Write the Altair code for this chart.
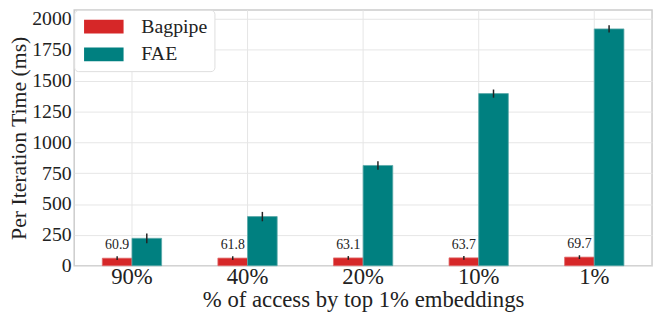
import altair as alt
import pandas as pd

categories = ["90%", "40%", "20%", "10%", "1%"]
series = ["Bagpipe", "FAE"]
bagpipe = [60.9, 61.8, 63.1, 63.7, 69.7]
bagpipe_err = [15, 15, 15, 15, 15]
fae = [222, 398, 812, 1394, 1918]
fae_err = [40, 38, 35, 33, 30]
y_ticks = [0, 250, 500, 750, 1000, 1250, 1500, 1750, 2000]
colors = ["#d62728", "#008080"]

rows = []
for i, c in enumerate(categories):
    rows.append({"cat": c, "series": "Bagpipe", "value": bagpipe[i],
                 "lo": bagpipe[i] - bagpipe_err[i], "hi": bagpipe[i] + bagpipe_err[i],
                 "label": f"{bagpipe[i]:.1f}"})
    rows.append({"cat": c, "series": "FAE", "value": fae[i],
                 "lo": fae[i] - fae_err[i], "hi": fae[i] + fae_err[i],
                 "label": ""})
df = pd.DataFrame(rows)

FONT = "Liberation Serif"

x = alt.X("cat:N", sort=categories,
          scale=alt.Scale(paddingInner=0.487, paddingOuter=0.2435),
          axis=alt.Axis(title="% of access by top 1% embeddings", labelAngle=0,
                        grid=True, bandPosition=0.5, ticks=False, domain=False,
                        labelFontSize=23, titleFontSize=23, labelPadding=0,
                        titlePadding=0))
xo = alt.XOffset("series:N", sort=series, scale=alt.Scale(paddingInner=0, paddingOuter=0))
yscale = alt.Scale(domain=[0, 2072], nice=False, zero=True)
yaxis = alt.Axis(title="Per Iteration Time (ms)", values=y_ticks, tickCount=9,
                 format="d", labelOverlap=False,
                 ticks=False, domain=False, labelFontSize=20, titleFontSize=22,
                 labelPadding=3, titlePadding=1)

base = alt.Chart(df)

bars = base.mark_bar(strokeWidth=0.8).encode(
    x=x, xOffset=xo,
    y=alt.Y("value:Q", scale=yscale, axis=yaxis),
    color=alt.Color("series:N", sort=series,
                    scale=alt.Scale(domain=series, range=colors),
                    legend=alt.Legend(title=None, orient="top-left", offset=0,
                                      symbolType="M-1,-1L4.714,-1L4.714,1L-1,1Z",
                                      symbolSize=196, symbolStrokeWidth=0,
                                      labelFontSize=20, labelOffset=41,
                                      rowPadding=8, padding=7,
                                      fillColor="white", strokeColor="#dddddd",
                                      cornerRadius=4)),
    stroke=alt.Stroke("series:N", scale=alt.Scale(domain=series, range=["#e06a6a", "#5aa9a9"]),
                      legend=None),
)

err = base.mark_rule(color="#222222", strokeWidth=1.5).encode(
    x=x, xOffset=xo,
    y=alt.Y("lo:Q", scale=yscale, axis=yaxis), y2="hi:Q")

labels = base.transform_filter(alt.datum.series == "Bagpipe").mark_text(
    baseline="bottom", dy=-4, fontSize=14, font=FONT, color="#222222").encode(
    x=x, xOffset=xo, y=alt.Y("hi:Q", scale=yscale, axis=yaxis), text="label:N")

chart = alt.layer(bars, err, labels).properties(
    width=585, height=259,
    autosize=alt.AutoSizeParams(type="none"),
    padding={"left": 67, "top": 0, "right": 4, "bottom": 51},
).configure(font=FONT).configure_axis(
    gridColor="#e6e6e6", gridWidth=1, labelColor="#222222", titleColor="#222222",
    labelFont=FONT, titleFont=FONT, titleFontWeight="normal",
).configure_legend(labelFont=FONT, labelColor="#222222").configure_view(
    stroke="#cccccc", strokeWidth=1.5)

chart.save("out.html", embed_options={"renderer": "svg", "actions": False})
